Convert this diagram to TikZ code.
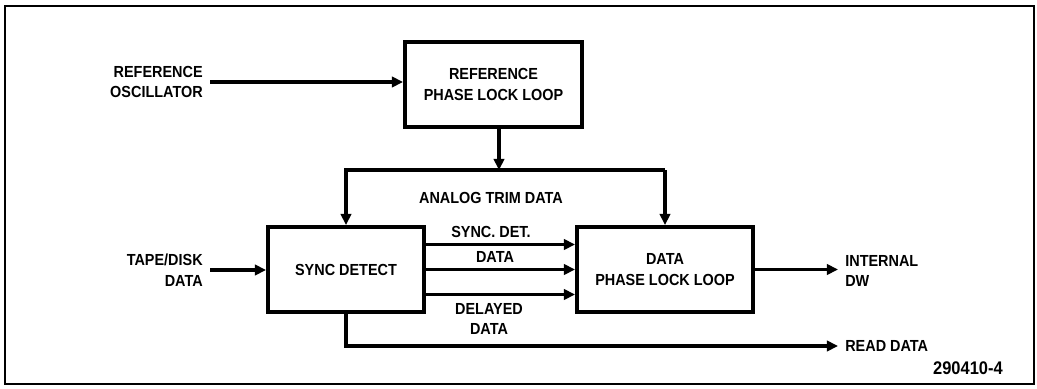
\documentclass[tikz,border=0pt]{standalone}
\usepackage{fontspec}
\setmainfont[FakeStretch=0.9]{Liberation Sans}
\usetikzlibrary{arrows.meta}

\begin{document}
\begin{tikzpicture}[x=0.025cm,y=-0.025cm,
  font=\fontsize{11.4}{14.6}\selectfont\bfseries,
  blk/.style={draw,line width=2.8pt,minimum height=2.125cm,align=center,inner sep=0pt},
  arr/.style={line width=2.4pt,-{Triangle[length=8pt,width=7.5pt]}},
  lbl/.style={inner xsep=5pt,inner ysep=0pt}]
\useasboundingbox (0,0) rectangle (1037,388);
\draw[line width=1.5pt] (5,6) rectangle (1034,384);

% blocks
\node[blk,minimum width=4.425cm] (refpll) at (493.5,84.5) {REFERENCE\\PHASE LOCK LOOP};
\node[blk,minimum width=3.9cm] (sync) at (346,269.5) {SYNC DETECT};
\node[blk,minimum width=4.4cm] (dpll) at (665,269.5) {DATA\\PHASE LOCK LOOP};

% inputs and outputs
\node[lbl,anchor=east,align=right] (refosc) at (210,82) {REFERENCE\\OSCILLATOR};
\node[lbl,anchor=east,align=right] (tape) at (210,270) {TAPE/DISK\\DATA};
\node[lbl,anchor=west,align=left] (internal) at (838,271) {INTERNAL\\DW};
\node[lbl,anchor=west] (readdata) at (838,346) {READ DATA};

% signal names
\node[inner sep=0pt] (trim) at (491,198) {ANALOG TRIM DATA};
\node[inner sep=0pt] (syncdet) at (491,232) {SYNC. DET.};
\node[inner sep=0pt] (datalbl) at (495,257) {DATA};
\node[inner sep=0pt,align=center] (delayed) at (489,319) {DELAYED\\[-1pt]DATA};
\node[anchor=east,inner sep=0pt,font=\fontsize{13}{15}\selectfont\bfseries] (figno) at (1003,368) {290410-4};

% connections
\coordinate (bus) at (499,170);
\draw[arr] (refosc.east) -- (refosc.east -| refpll.west);
\draw[arr] (bus |- refpll.south) -- (bus);
\draw[arr] (bus -| dpll.north) -- (dpll.north);
\draw[arr] (bus -| dpll.north) -| (sync.north);
\draw[arr] (tape.east) -- (tape.east -| sync.west);
\foreach \dy in {-25,0,25} {
  \path (sync.east) ++(0,\dy) coordinate (s);
  \draw[arr] (s) -- (s -| dpll.west);
}
\draw[arr] (dpll.east) -- (dpll.east -| internal.west);
\draw[arr] (sync.south) |- (readdata.west);
\end{tikzpicture}
\end{document}
